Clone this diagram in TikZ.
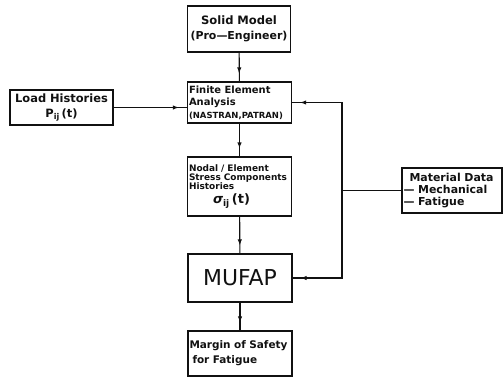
\documentclass[tikz,border=0pt]{standalone}
\usepackage{fontspec}
\setmainfont{DejaVu Sans}
\usetikzlibrary{arrows.meta,decorations.markings}
\definecolor{inkcolor}{HTML}{111111}

\begin{document}
\begin{tikzpicture}[
  x=1bp, y=-1bp,
  every node/.style={text=inkcolor},
  box/.style={draw=inkcolor, line width=1.1bp, inner xsep=1.5bp, inner ysep=2bp},
  flow/.style={draw=inkcolor, line width=1.1bp, postaction={decorate},
    decoration={markings, mark=at position -8bp with {\arrow{Latex[length=6bp,width=4.4bp]}}}}
]
  \useasboundingbox (0,0) rectangle (504,378);

  % main column
  \node[box, text width=100bp, minimum height=46bp, align=center,
    font=\bfseries\fontsize{11.6}{15}\selectfont] (solid) at (239,29)
    {Solid Model\\\mbox{\fontsize{11}{15}\selectfont(Pro\textemdash Engineer)}};
  \node[box, text width=101bp, minimum height=41bp, align=left,
    font=\bfseries\fontsize{10}{12.5}\selectfont] (fea) at (239.5,102.5)
    {Finite Element\\Analysis\\{\fontsize{8.5}{12.5}\selectfont(NASTRAN,PATRAN)}};
  \node[box, text width=101bp, minimum height=59bp, align=left,
    font=\bfseries\fontsize{9}{8.8}\selectfont] (nodal) at (239.5,186.5)
    {Nodal / Element\\Stress Components\\Histories\\[3bp]
     \hspace*{24bp}{\fontsize{13}{13}\selectfont\textit{σ}\textsubscript{ij}\,(t)}};
  \node[box, text width=101bp, minimum height=48bp, align=center,
    font=\fontsize{22}{24}\selectfont] (mufap) at (240,278) {MUFAP};
  \node[box, text width=101bp, minimum height=45bp, align=left,
    font=\bfseries\fontsize{10.5}{15}\selectfont] (margin) at (240,353.5)
    {Margin of Safety\\\hspace*{3bp}for Fatigue};

  % side inputs
  \node[box, text width=100bp, minimum height=35bp, align=center,
    font=\bfseries\fontsize{11.5}{16}\selectfont] (load) at (61.5,107.5)
    {Load Histories\\P\textsubscript{ij}\,(t)};
  \node[box, text width=97bp, minimum height=45bp, align=left,
    font=\bfseries\fontsize{11}{12.5}\selectfont] (material) at (452,190.5)
    {\hspace*{6bp}Material Data\\\textemdash\ Mechanical\\\textemdash\ Fatigue};

  \coordinate (busline) at (342,0);

  \draw[flow] (solid) -- (fea);
  \draw[flow] (fea) -- (nodal);
  \draw[flow] (nodal) -- (mufap);
  \draw[flow] (mufap) -- (margin);
  \draw[flow] (load.east) -- (load.east -| fea.west);
  \draw[flow] (material.west) -| (busline |- fea.east) -- (fea.east);
  \draw[flow] (material.west -| busline) -- (busline |- mufap.east) -- (mufap.east);
\end{tikzpicture}
\end{document}
